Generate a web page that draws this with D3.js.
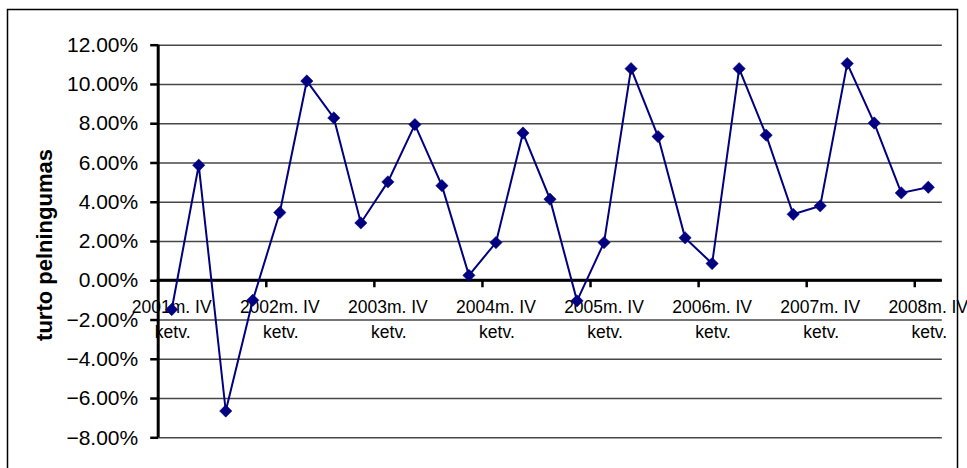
<!DOCTYPE html>
<html>
<head>
<meta charset="utf-8">
<script src="https://cdn.jsdelivr.net/npm/d3@7"></script>
<style>
  html, body { margin: 0; padding: 0; background: #fff; }
  svg { display: block; }
  text { font-family: "Liberation Sans", Arial, sans-serif; fill: #000; }
</style>
</head>
<body>
<svg id="chart" width="967" height="468"></svg>
<script>
// ---- data ----
const categories = [
  "2001m. IV ketv.",
  "2002m. I ketv.", "2002m. II ketv.", "2002m. III ketv.", "2002m. IV ketv.",
  "2003m. I ketv.", "2003m. II ketv.", "2003m. III ketv.", "2003m. IV ketv.",
  "2004m. I ketv.", "2004m. II ketv.", "2004m. III ketv.", "2004m. IV ketv.",
  "2005m. I ketv.", "2005m. II ketv.", "2005m. III ketv.", "2005m. IV ketv.",
  "2006m. I ketv.", "2006m. II ketv.", "2006m. III ketv.", "2006m. IV ketv.",
  "2007m. I ketv.", "2007m. II ketv.", "2007m. III ketv.", "2007m. IV ketv.",
  "2008m. I ketv.", "2008m. II ketv.", "2008m. III ketv.", "2008m. IV ketv."
];
const values = [
  -1.49, 5.86, -6.66, -1.02, 3.45, 10.15, 8.27, 2.92, 5.01, 7.93,
  4.82, 0.25, 1.92, 7.50, 4.13, -1.05, 1.92, 10.78, 7.32, 2.16,
  0.85, 10.78, 7.39, 3.36, 3.79, 11.04, 8.01, 4.45, 4.74
];
const yTicks = [-8, -6, -4, -2, 0, 2, 4, 6, 8, 10, 12];
const yTitle = "turto pelningumas";
const labelEvery = 4;

// ---- layout ----
const svg = d3.select("#chart");
const pLeft = 158.2, pRight = 941.8, pTop = 44.7, pBottom = 437.3;

const x = d3.scaleBand().domain(categories).range([pLeft, pRight]).padding(0);
const y = d3.scaleLinear().domain([-8, 12]).range([pBottom, pTop]);

// outer border
svg.append("rect")
  .attr("x", 7.5).attr("y", 9.5).attr("width", 950).attr("height", 470)
  .attr("fill", "none").attr("stroke", "#000").attr("stroke-width", 1.5);

// gridlines
const grid = svg.append("g").attr("transform", `translate(${pLeft},0)`)
  .call(d3.axisLeft(y).tickValues(yTicks).tickSize(-(pRight - pLeft)).tickFormat(""));
grid.select(".domain").remove();
grid.selectAll("line").attr("stroke", "#474747").attr("stroke-width", 1.5);

// x category labels (behind series)
const splitLab = d => {
  const parts = d.split(" ");
  return [parts.slice(0, 2).join(" "), parts.slice(2).join(" ")];
};
const labG = svg.append("g");
categories.forEach((c, i) => {
  if (i % labelEvery !== 0) return;
  const [l1, l2] = splitLab(c);
  const cx = x(c) + x.bandwidth() / 2;
  const t = labG.append("text")
    .attr("text-anchor", "middle")
    .attr("font-size", 17.5);
  t.append("tspan").attr("x", cx).attr("y", 313).text(l1);
  t.append("tspan").attr("x", cx + 1).attr("y", 338).text(l2);
});

// y axis
const yAxis = svg.append("g").attr("transform", `translate(${pLeft},0)`)
  .call(d3.axisLeft(y).tickValues(yTicks).tickSize(8).tickPadding(12)
    .tickFormat(d => d3.format(".2f")(d) + "%"));
yAxis.select(".domain").attr("stroke", "#000").attr("stroke-width", 3)
  .attr("d", `M0,${pTop}V${pBottom}`);
yAxis.selectAll(".tick line").attr("stroke", "#000").attr("stroke-width", 2.5);
yAxis.selectAll(".tick text")
  .attr("font-size", 21)
  .attr("font-family", "'Liberation Sans', Arial, sans-serif")
  .attr("fill", "#000");

// x axis at zero
const xAxisG = svg.append("g");
xAxisG.append("line")
  .attr("x1", pLeft - 1.5).attr("x2", pRight)
  .attr("y1", y(0)).attr("y2", y(0))
  .attr("stroke", "#000").attr("stroke-width", 3);
categories.forEach((c, i) => {
  if (i === 0 || i % labelEvery !== 0) return;
  xAxisG.append("line")
    .attr("x1", x(c)).attr("x2", x(c))
    .attr("y1", y(0)).attr("y2", y(0) + 7)
    .attr("stroke", "#000").attr("stroke-width", 2.5);
});

// y axis title
svg.append("text")
  .attr("transform", `translate(52,245) rotate(-90)`)
  .attr("text-anchor", "middle")
  .attr("font-size", 22)
  .attr("font-weight", "bold")
  .text(yTitle);

// series
const pts = categories.map((c, i) => ({ x: x(c) + x.bandwidth() / 2, y: y(values[i]) }));
svg.append("path")
  .datum(pts)
  .attr("fill", "none")
  .attr("stroke", "#000080")
  .attr("stroke-width", 2)
  .attr("d", d3.line().x(d => d.x).y(d => d.y));

svg.append("g").selectAll("path").data(pts).join("path")
  .attr("transform", d => `translate(${d.x},${d.y}) rotate(45)`)
  .attr("d", d3.symbol(d3.symbolSquare, 76)())
  .attr("fill", "#000080")
  .attr("stroke", "#000080")
  .attr("stroke-width", 0.5);
</script>
</body>
</html>
